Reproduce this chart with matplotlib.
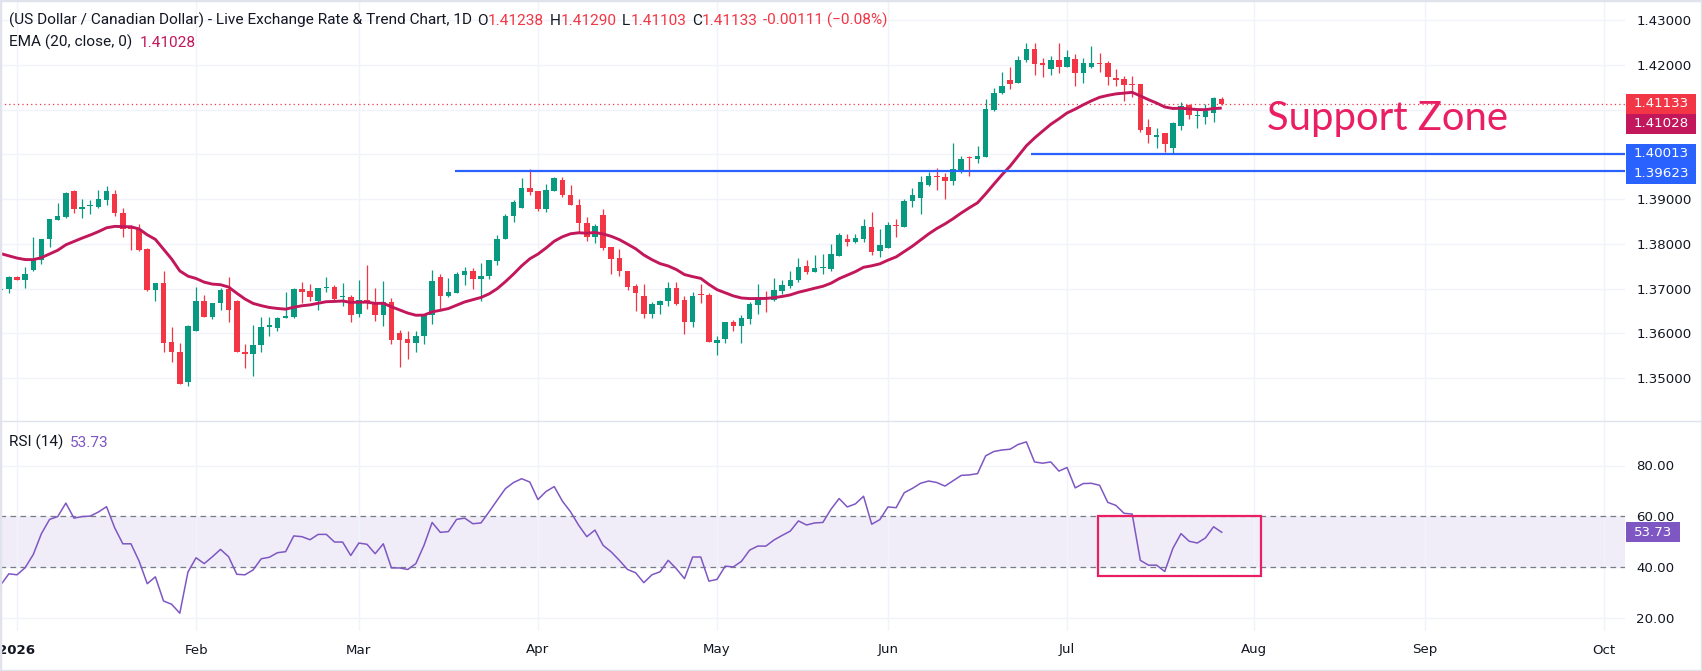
import numpy as np
import pandas as pd
import matplotlib
matplotlib.use('Agg')
import matplotlib.pyplot as plt
from matplotlib.patches import Rectangle

# USD/CAD daily candles, one per weekday from 30 Dec 2025 to 28 Jul 2026
start_date = '2025-12-30'
opens = [
    1.3697, 1.3698, 1.3726, 1.3720, 1.3742, 1.3763, 1.3810, 1.3854, 1.3860, 1.3917,
    1.3877, 1.3884, 1.3883, 1.3897, 1.3912, 1.3869, 1.3835, 1.3834, 1.3789, 1.3697,
    1.3713, 1.3581, 1.3558, 1.3490, 1.3604, 1.3672, 1.3637, 1.3667, 1.3698, 1.3673,
    1.3558, 1.3554, 1.3573, 1.3613, 1.3611, 1.3633, 1.3636, 1.3699, 1.3695, 1.3673,
    1.3702, 1.3704, 1.3680, 1.3681, 1.3644, 1.3674, 1.3669, 1.3641, 1.3669, 1.3600,
    1.3587, 1.3579, 1.3593, 1.3640, 1.3726, 1.3684, 1.3690, 1.3731, 1.3740, 1.3722,
    1.3727, 1.3762, 1.3810, 1.3861, 1.3881, 1.3925, 1.3917, 1.3877, 1.3917, 1.3942,
    1.3910, 1.3887, 1.3846, 1.3815, 1.3865, 1.3793, 1.3768, 1.3739, 1.3706, 1.3683,
    1.3643, 1.3664, 1.3672, 1.3701, 1.3675, 1.3625, 1.3686, 1.3685, 1.3579, 1.3587,
    1.3625, 1.3617, 1.3632, 1.3664, 1.3680, 1.3674, 1.3695, 1.3705, 1.3719, 1.3750,
    1.3737, 1.3745, 1.3744, 1.3773, 1.3811, 1.3803, 1.3810, 1.3837, 1.3784, 1.3791,
    1.3840, 1.3837, 1.3895, 1.3903, 1.3931, 1.3952, 1.3949, 1.3941, 1.3964, 1.3993,
    1.3990, 1.3993, 1.4098, 1.4136, 1.4166, 1.4160, 1.4210, 1.4236, 1.4203, 1.4190,
    1.4211, 1.4194, 1.4213, 1.4181, 1.4194, 1.4204, 1.4203, 1.4171, 1.4169, 1.4157,
    1.4157, 1.4060, 1.4038, 1.4048, 1.4015, 1.4064, 1.4110, 1.4085, 1.4084, 1.4093,
    1.41238,
]
highs = [
    1.3701, 1.3729, 1.3728, 1.3749, 1.3816, 1.3811, 1.3856, 1.3890, 1.3915, 1.3919,
    1.3899, 1.3898, 1.3921, 1.3930, 1.3919, 1.3881, 1.3843, 1.3845, 1.3790, 1.3713,
    1.3740, 1.3614, 1.3579, 1.3619, 1.3704, 1.3686, 1.3668, 1.3701, 1.3726, 1.3675,
    1.3575, 1.3619, 1.3636, 1.3637, 1.3637, 1.3692, 1.3701, 1.3715, 1.3711, 1.3702,
    1.3726, 1.3708, 1.3713, 1.3686, 1.3719, 1.3753, 1.3701, 1.3717, 1.3678, 1.3608,
    1.3604, 1.3604, 1.3643, 1.3742, 1.3733, 1.3724, 1.3737, 1.3749, 1.3746, 1.3756,
    1.3764, 1.3820, 1.3866, 1.3897, 1.3948, 1.3967, 1.3917, 1.3934, 1.3949, 1.3950,
    1.3932, 1.3901, 1.3860, 1.3844, 1.3878, 1.3793, 1.3788, 1.3739, 1.3709, 1.3710,
    1.3670, 1.3674, 1.3714, 1.3714, 1.3683, 1.3692, 1.3710, 1.3689, 1.3593, 1.3625,
    1.3629, 1.3640, 1.3670, 1.3710, 1.3694, 1.3723, 1.3719, 1.3739, 1.3768, 1.3764,
    1.3774, 1.3778, 1.3799, 1.3824, 1.3822, 1.3822, 1.3855, 1.3871, 1.3832, 1.3849,
    1.3855, 1.3900, 1.3925, 1.3952, 1.3961, 1.3969, 1.3958, 1.4025, 1.3996, 1.3995,
    1.4019, 1.4124, 1.4149, 1.4184, 1.4196, 1.4219, 1.4249, 1.4249, 1.4216, 1.4219,
    1.4249, 1.4234, 1.4224, 1.4214, 1.4241, 1.4227, 1.4208, 1.4191, 1.4175, 1.4175,
    1.4157, 1.4078, 1.4058, 1.4048, 1.4072, 1.4116, 1.4112, 1.4101, 1.4113, 1.4128,
    1.41290,
]
lows = [
    1.3696, 1.3689, 1.3719, 1.3702, 1.3738, 1.3755, 1.3792, 1.3852, 1.3857, 1.3868,
    1.3857, 1.3867, 1.3880, 1.3886, 1.3861, 1.3816, 1.3787, 1.3784, 1.3695, 1.3673,
    1.3559, 1.3536, 1.3487, 1.3483, 1.3604, 1.3636, 1.3631, 1.3653, 1.3626, 1.3557,
    1.3523, 1.3505, 1.3557, 1.3594, 1.3604, 1.3633, 1.3633, 1.3668, 1.3671, 1.3651,
    1.3693, 1.3675, 1.3660, 1.3626, 1.3637, 1.3655, 1.3628, 1.3617, 1.3577, 1.3525,
    1.3543, 1.3557, 1.3577, 1.3621, 1.3655, 1.3680, 1.3689, 1.3707, 1.3700, 1.3671,
    1.3722, 1.3752, 1.3810, 1.3848, 1.3881, 1.3908, 1.3874, 1.3870, 1.3917, 1.3904,
    1.3886, 1.3824, 1.3806, 1.3801, 1.3787, 1.3732, 1.3728, 1.3696, 1.3649, 1.3634,
    1.3633, 1.3643, 1.3661, 1.3664, 1.3599, 1.3614, 1.3668, 1.3581, 1.3551, 1.3579,
    1.3606, 1.3579, 1.3621, 1.3643, 1.3648, 1.3672, 1.3687, 1.3702, 1.3715, 1.3732,
    1.3737, 1.3732, 1.3740, 1.3773, 1.3796, 1.3802, 1.3805, 1.3775, 1.3771, 1.3791,
    1.3816, 1.3837, 1.3883, 1.3867, 1.3928, 1.3920, 1.3901, 1.3931, 1.3959, 1.3952,
    1.3981, 1.3993, 1.4096, 1.4134, 1.4146, 1.4160, 1.4207, 1.4178, 1.4172, 1.4178,
    1.4181, 1.4194, 1.4152, 1.4160, 1.4193, 1.4184, 1.4155, 1.4152, 1.4118, 1.4127,
    1.4049, 1.4026, 1.4013, 1.4006, 1.4002, 1.4055, 1.4078, 1.4058, 1.4068, 1.4072,
    1.41103,
]
closes = [
    1.3699, 1.3726, 1.3720, 1.3733, 1.3763, 1.3811, 1.3856, 1.3863, 1.3914, 1.3877,
    1.3883, 1.3885, 1.3899, 1.3917, 1.3869, 1.3833, 1.3834, 1.3787, 1.3696, 1.3713,
    1.3579, 1.3557, 1.3487, 1.3617, 1.3672, 1.3637, 1.3668, 1.3696, 1.3653, 1.3559,
    1.3554, 1.3573, 1.3614, 1.3619, 1.3634, 1.3639, 1.3699, 1.3693, 1.3682, 1.3702,
    1.3703, 1.3677, 1.3681, 1.3640, 1.3674, 1.3669, 1.3641, 1.3669, 1.3585, 1.3585,
    1.3579, 1.3594, 1.3643, 1.3717, 1.3684, 1.3693, 1.3733, 1.3740, 1.3722, 1.3728,
    1.3764, 1.3811, 1.3863, 1.3894, 1.3925, 1.3916, 1.3877, 1.3921, 1.3948, 1.3910,
    1.3886, 1.3846, 1.3815, 1.3840, 1.3790, 1.3767, 1.3739, 1.3704, 1.3690, 1.3643,
    1.3665, 1.3671, 1.3701, 1.3666, 1.3625, 1.3683, 1.3685, 1.3581, 1.3586, 1.3625,
    1.3617, 1.3634, 1.3665, 1.3679, 1.3679, 1.3696, 1.3708, 1.3719, 1.3748, 1.3737,
    1.3745, 1.3746, 1.3777, 1.3819, 1.3803, 1.3813, 1.3840, 1.3782, 1.3797, 1.3842,
    1.3839, 1.3896, 1.3909, 1.3939, 1.3952, 1.3949, 1.3941, 1.3967, 1.3990, 1.3992,
    1.3996, 1.4102, 1.4137, 1.4153, 1.4158, 1.4211, 1.4236, 1.4201, 1.4199, 1.4211,
    1.4196, 1.4217, 1.4182, 1.4203, 1.4204, 1.4201, 1.4172, 1.4167, 1.4154, 1.4154,
    1.4055, 1.4042, 1.4043, 1.4022, 1.4070, 1.4108, 1.4087, 1.4086, 1.4097, 1.4126,
    1.41133,
]
rsi = [
    33.0, 37.4, 37.0, 39.8, 45.0, 53.2, 58.8, 59.9, 65.2, 59.3,
    59.9, 60.1, 61.7, 63.8, 55.5, 49.2, 49.2, 42.4, 33.5, 36.2,
    26.7, 25.4, 21.9, 38.1, 43.7, 41.4, 44.1, 47.0, 44.1, 37.2,
    37.0, 38.9, 43.3, 43.9, 45.7, 46.1, 52.3, 52.0, 50.8, 52.9,
    52.9, 49.9, 49.9, 44.6, 49.5, 49.0, 45.3, 49.2, 39.7, 39.7,
    39.1, 41.4, 48.6, 57.6, 53.7, 54.0, 58.8, 59.3, 57.1, 57.4,
    61.8, 66.4, 70.9, 73.3, 74.8, 73.5, 66.6, 69.8, 71.7, 66.0,
    61.8, 56.5, 52.0, 54.6, 48.6, 46.0, 42.7, 39.1, 37.8, 33.9,
    37.0, 38.2, 42.7, 39.4, 35.5, 44.0, 44.0, 34.5, 35.2, 40.4,
    40.1, 42.3, 46.7, 48.3, 48.3, 50.7, 52.5, 54.2, 58.2, 56.6,
    57.4, 57.6, 62.8, 67.0, 63.7, 64.9, 67.9, 56.9, 58.7, 63.7,
    63.4, 69.3, 71.0, 73.0, 73.9, 73.3, 71.9, 74.0, 76.1, 76.3,
    76.8, 83.8, 85.5, 86.1, 86.4, 88.3, 89.3, 81.4, 80.9, 81.4,
    77.8, 79.2, 71.2, 72.9, 73.0, 72.2, 65.5, 64.3, 61.2, 60.9,
    42.7, 40.8, 40.8, 38.3, 47.4, 53.2, 50.2, 49.5, 51.5, 55.9,
    53.73,
]
ema_start = 1.3778          # EMA(20) where the chart begins
ema_last = 1.41028
day_change = -0.00111
day_change_pct = -0.08
support_upper = 1.40013
support_lower = 1.39623
month_labels = ['2026', 'Feb', 'Mar', 'Apr', 'May', 'Jun', 'Jul', 'Aug', 'Sep', 'Oct']
price_ticks = [1.35, 1.36, 1.37, 1.38, 1.39, 1.40, 1.41, 1.42, 1.43]
rsi_ticks = [20, 40, 60, 80]

UP = '#089981'
DOWN = '#f23645'
EMA_C = '#c2185b'
BLUE = '#2962ff'
PURPLE = '#7e57c2'
TXT = '#131722'
GRID = '#f0f3fa'

W, H = 1702, 671
fig = plt.figure(figsize=(W / 100, H / 100), dpi=100)
fig.patch.set_facecolor('white')


def add_ax(x0, y0, x1, y1):
    return fig.add_axes([x0 / W, 1 - y1 / H, (x1 - x0) / W, (y1 - y0) / H])


ax = add_ax(0, 0, 1625, 421)
ax2 = add_ax(0, 421, 1625, 631)

# business-day calendar used as the x scale (one slot per bar)
cal = pd.bdate_range(start_date, '2026-10-30')
x = np.arange(len(closes))
months = cal.to_period('M')
month_pos = [i for i in range(len(cal)) if i == 0 or months[i] != months[i - 1]][1:]
month_pos = month_pos[:len(month_labels)]
xmin = month_pos[0] - 17 / 8.14
xmax = month_pos[0] + 1608 / 8.14

o = np.array(opens)
h = np.array(highs)
l = np.array(lows)
c = np.array(closes)
cols = [UP if cc >= oo else DOWN for oo, cc in zip(o, c)]

ax.vlines(x, l, h, colors=cols, linewidth=0.9, zorder=3)
body = np.maximum(np.abs(c - o), 0.00022)
ax.bar(x, body, bottom=np.minimum(o, c), width=0.68, color=cols, linewidth=0, zorder=4)

# EMA 20 of close
alpha = 2 / 21
ema = [ema_start]
for cc in closes[1:]:
    ema.append(ema[-1] + alpha * (cc - ema[-1]))
ax.plot(x, ema, color=EMA_C, lw=2.1, zorder=5, solid_capstyle='butt')

# support lines
ax.hlines(support_lower, month_pos[2] + 11.8, xmax, color=BLUE, lw=1.6, zorder=6)
ax.hlines(support_upper, month_pos[5] + 17.6, xmax, color=BLUE, lw=1.6, zorder=6)
ax.axhline(closes[-1], color=DOWN, lw=0.9, ls=(0, (1, 2.5)), zorder=2)

ax.text(month_pos[6] + 39.4, 1.4079, 'Support Zone', color='#e91e63', fontsize=28.8,
        family='Lato', fontweight='normal', ha='center', va='center')

ax.set_xlim(xmin, xmax)
ax.set_ylim(1.43 - 401 / 4475, 1.43 + 20 / 4475)
ax.set_yticks(price_ticks)
# labels under the value tags are hidden, as on the price scale
ax.set_yticklabels(['' if v in (1.40, 1.41) else '%.5f' % v for v in price_ticks])
ax.set_xticks(month_pos)
ax.tick_params(axis='x', labelbottom=False, length=0)
ax.yaxis.tick_right()
ax.tick_params(axis='y', length=0, pad=8, labelsize=9.6, labelcolor=TXT)
ax.grid(True, color=GRID, lw=1, zorder=0)
for s in ax.spines.values():
    s.set_visible(False)

# RSI panel
ax2.axhspan(40, 60, color=PURPLE, alpha=0.1, lw=0, zorder=1)
for lvl in (40, 60):
    ax2.axhline(lvl, color='#787b86', lw=0.9, ls=(0, (4.5, 3.5)), zorder=2)
ax2.plot(x, rsi, color=PURPLE, lw=1.1, zorder=4)
ax2.add_patch(Rectangle((x[-1] - 15.2, 36.4), 20, 23.7, fill=False, ec='#e91e63', lw=1.6, zorder=5))

ax2.set_xlim(xmin, xmax)
ax2.set_ylim(80 - 165.5 / 2.542, 80 + 44.5 / 2.542)
ax2.set_yticks(rsi_ticks)
ax2.set_yticklabels(['%.2f' % v for v in rsi_ticks])
ax2.yaxis.tick_right()
ax2.tick_params(axis='y', length=0, pad=8, labelsize=9.6, labelcolor=TXT)
ax2.set_xticks(month_pos)
ax2.set_xticklabels(month_labels)
ax2.tick_params(axis='x', length=0, pad=9, labelsize=9.6, labelcolor=TXT)
ax2.get_xticklabels()[0].set_fontweight('bold')
ax2.grid(True, color=GRID, lw=1, zorder=0)
for s in ax2.spines.values():
    s.set_visible(False)

fig.add_artist(plt.Line2D([0, 1], [1 - 421 / H, 1 - 421 / H], color='#e0e3eb', lw=1))
fig.add_artist(Rectangle((0, 0), 1, 1, transform=fig.transFigure, fill=False, ec='#e0e3eb', lw=2.5))


# value tags on the price scale
def tag(y_px, text, color, width=70):
    fig.add_artist(Rectangle((1626 / W, 1 - (y_px + 10) / H), width / W, 20 / H,
                             transform=fig.transFigure, fc=color, ec='none', zorder=5))
    fig.text((1626 + width / 2) / W, 1 - y_px / H, text, color='white', ha='center',
             va='center', fontsize=9.6, zorder=6)


tags = [(closes[-1], '%.5f' % closes[-1], DOWN), (ema_last, '%.5f' % ema_last, EMA_C),
        (support_upper, '%.5f' % support_upper, BLUE), (support_lower, '%.5f' % support_lower, BLUE)]
prev = None
for val, txt, col in tags:
    y_px = H - ax.transData.transform((0, val))[1]
    if prev is not None and y_px < prev + 20:
        y_px = prev + 20
    tag(y_px, txt, col)
    prev = y_px
tag(H - ax2.transData.transform((0, rsi[-1]))[1], '%.2f' % rsi[-1], PURPLE, width=54)


# legend lines at the top of each panel
def legend(xp, yp, parts, size=11.1):
    t = fig.text(xp / W, 1 - yp / H, parts[0][0], color=parts[0][1], fontsize=size,
                 family='Roboto', va='center', ha='left')
    for s, col, gap in parts[1:]:
        t = fig.add_artist(plt.Annotation(s, xy=(1, 0), xycoords=t, xytext=(gap, 0),
                                          textcoords='offset points', color=col, fontsize=size,
                                          family='Roboto', va='bottom', ha='left'))
    return t


legend(9, 20, [('(US Dollar / Canadian Dollar) - Live Exchange Rate & Trend Chart, 1D', TXT),
               ('O', TXT, 4), ('%.5f' % opens[-1], DOWN, 0),
               ('H', TXT, 4), ('%.5f' % highs[-1], DOWN, 0),
               ('L', TXT, 4), ('%.5f' % lows[-1], DOWN, 0),
               ('C', TXT, 4), ('%.5f' % closes[-1], DOWN, 0),
               ('%.5f (\u2212%.2f%%)' % (day_change, abs(day_change_pct)), DOWN, 4)])
legend(9, 42, [('EMA (20, close, 0)', TXT), ('%.5f' % ema_last, EMA_C, 5)])
legend(9, 442, [('RSI (14)', TXT), ('%.2f' % rsi[-1], PURPLE, 5)])

fig.savefig('out.png', dpi=100, facecolor='white')
